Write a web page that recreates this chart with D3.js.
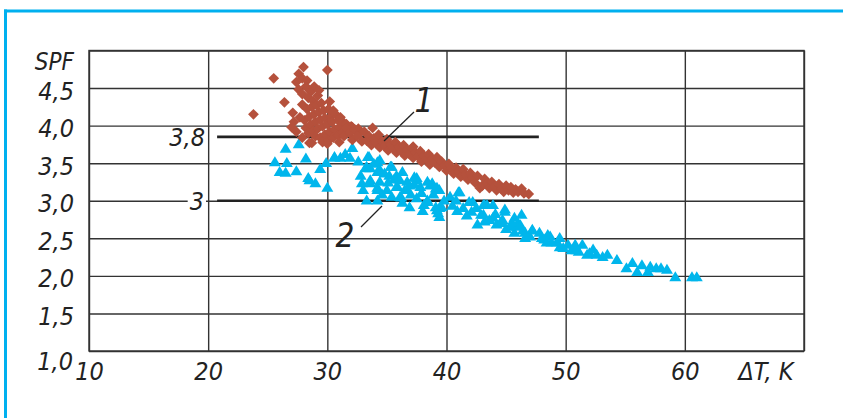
<!DOCTYPE html>
<html>
  <head>
    <meta charset="utf-8">
    <title>SPF vs dT</title>
    <style>
      body { margin: 0; background: #fff; }
      text { font-family: "Liberation Sans Narrow", "DejaVu Sans Condensed", sans-serif; font-style: italic; fill: #222; }
    </style>
  </head>
  <body>
  <script src="https://d3js.org/d3.v7.min.js"></script>
  <script>
    var w = 843;
    var h = 418;

    // x ticks (dT, K) and y ticks (SPF)
    var xTicks = [10, 20, 30, 40, 50, 60];
    var yTicks = [1.0, 1.5, 2.0, 2.5, 3.0, 3.5, 4.0, 4.5];

    // reference lines: label, SPF level
    var refLabels = ['3,8', '3'];
    var refValues = [3.85, 3.0];

    // series 1 (red diamonds): [dT, SPF]
    var series1 = [
      [23.8,4.15],[25.5,4.63],[26.4,4.31],[27.1,4.17],[28.0,4.78],[30.0,4.74],
      [27.4,4.58],[27.6,4.69],[27.9,4.63],[28.3,4.60],[27.6,4.48],[27.9,4.42],[28.2,4.52],[28.6,4.45],
      [28.9,4.52],[28.4,4.37],[28.8,4.33],[29.2,4.40],[27.9,4.28],[28.3,4.22],[28.7,4.25],[29.1,4.27],
      [29.5,4.30],[28.1,4.07],[28.5,4.12],[28.9,4.15],[29.3,4.18],[29.7,4.20],[30.1,4.22],[28.2,3.97],
      [28.6,4.01],[29.0,4.05],[29.4,4.08],[29.8,4.10],[30.3,4.12],[30.7,4.15],[28.4,3.90],[28.8,3.93],
      [29.2,3.96],[29.6,3.99],[30.0,4.02],[30.4,4.05],[30.9,4.07],[29.0,3.86],[29.4,3.84],[29.8,3.88],
      [30.2,3.92],[30.6,3.95],[31.0,3.98],[31.3,4.05],[29.6,3.78],[30.1,3.80],[30.5,3.84],[30.9,3.87],
      [31.3,3.91],[31.7,3.94],[32.0,3.99],[27.0,3.98],[27.4,3.92],[27.7,4.11],[28.5,3.77],[27.9,3.84],
      [27.2,4.05],[28.7,3.77],[30.0,3.76],[31.0,3.78],[30.5,4.20],[31.1,4.11],[33.8,3.97],[32.1,3.98],
      [32.7,3.90],[34.4,3.81],[35.8,3.76],[37.2,3.72],[29.3,4.47],[30.2,4.32],[31.6,4.02],[32.6,3.96],
      [31.4,3.86],[31.6,3.97],[31.9,3.90],[32.1,3.81],[32.3,3.95],[32.5,3.86],[32.9,3.79],[33.1,3.92],
      [33.3,3.80],[33.5,3.86],[33.7,3.74],[33.9,3.83],[34.1,3.77],[34.3,3.88],[34.4,3.71],[34.6,3.79],
      [34.8,3.73],[35.0,3.82],[35.1,3.67],[35.3,3.75],[35.5,3.70],[35.7,3.78],[35.8,3.64],[36.0,3.72],
      [36.2,3.66],[36.4,3.74],[36.5,3.60],[36.7,3.68],[36.9,3.62],[37.1,3.70],[37.2,3.57],[37.4,3.64],
      [37.6,3.59],[37.8,3.66],[37.9,3.52],[38.1,3.60],[38.3,3.55],[38.5,3.62],[38.6,3.48],[38.8,3.56],
      [39.0,3.51],[39.2,3.58],[39.4,3.45],[39.6,3.52],[39.8,3.47],[40.0,3.40],[40.2,3.49],[40.4,3.43],
      [40.6,3.36],[40.8,3.44],[41.0,3.39],[41.2,3.32],[41.4,3.42],[41.6,3.35],[41.8,3.28],[42.0,3.37],
      [42.2,3.31],[42.4,3.24],[42.6,3.33],[42.8,3.17],[43.0,3.20],[43.2,3.29],[43.4,3.23],[43.6,3.17],
      [43.8,3.25],[44.0,3.19],[44.2,3.14],[44.4,3.22],[44.6,3.16],[44.8,3.12],[45.0,3.20],[45.2,3.14],
      [45.4,3.18],[45.6,3.11],[45.8,3.15],[46.0,3.12],[46.3,3.16],[46.5,3.10],[46.9,3.09]
    ];

    // series 2 (blue triangles): [dT, SPF]
    var series2 = [
      [25.6,3.51],[26.0,3.38],[26.5,3.37],[26.6,3.50],[26.5,3.69],[27.6,3.75],[27.4,3.39],[28.5,3.27],
      [29.0,3.23],[30.0,3.17],[29.4,3.42],[29.9,3.50],[30.6,3.57],[31.1,3.57],[31.9,3.57],[32.1,3.70],
      [33.5,3.58],[34.4,3.54],[33.2,3.43],[33.6,3.43],[34.2,3.38],[35.4,3.45],[35.2,3.33],[35.8,3.33],
      [33.6,3.27],[34.4,3.25],[35.1,3.24],[33.0,3.14],[34.2,3.14],[35.9,3.18],[36.5,3.14],[37.5,3.27],
      [37.8,3.18],[38.6,3.20],[39.1,3.16],[33.3,3.00],[34.2,3.00],[36.2,3.04],[37.5,3.03],[38.4,3.00],
      [36.9,2.91],[38.1,2.94],[39.1,2.91],[39.6,2.91],[39.3,2.83],[40.3,3.05],[38.8,3.23],[39.4,3.14],
      [41.0,3.11],[39.4,2.90],[39.4,2.78],[40.5,2.93],[41.4,2.90],[41.9,2.98],[42.1,2.85],
      [42.6,2.68],[43.1,2.94],[43.9,2.94],[42.9,2.81],[43.6,2.74],[44.2,2.68],[44.9,2.88],[44.7,2.74],
      [45.3,2.65],[45.7,2.77],[46.3,2.81],[45.9,2.65],[46.4,2.60],[47.2,2.60],[47.8,2.57],[48.5,2.54],
      [33.4,3.58],[34.2,3.51],[33.3,3.45],[34.4,3.41],[35.3,3.45],[32.9,3.23],[33.6,3.23],[34.2,3.17],
      [35.0,3.14],[35.8,3.18],[36.7,3.14],[37.5,3.30],[37.3,3.21],[38.4,3.25],[39.2,3.17],[36.1,3.05],
      [38.4,2.98],[39.2,2.87],[41.1,3.11],[42.2,2.98],[43.2,2.94],[43.2,2.72],[44.5,2.70],[46.0,2.70],
      [46.6,2.57],[47.2,2.61],[48.7,2.52],[49.3,2.44],[28.4,3.30],[30.6,3.58],[37.3,3.31],[36.7,3.25],
      [36.1,3.27],[28.2,3.56],
      [31.5,3.62],[32.6,3.52],[33.9,3.49],[34.8,3.36],[35.6,3.28],[36.3,3.38],[36.9,3.20],[37.9,3.10],
      [38.9,3.08],[39.8,3.00],[40.8,3.00],[34.6,3.08],[35.4,3.05],[37.0,3.08],[38.0,2.86],[41.7,2.80],
      [42.5,2.90],[40.9,2.86],[44.1,2.82],[45.0,2.62],[47.0,2.52],[48.2,2.48],[36.3,2.97],[32.8,3.33],
      [43.4,2.94],[44.9,2.85],[43.1,2.81],[43.9,2.77],[44.6,2.71],[45.5,2.70],[46.2,2.67],[45.7,2.57],
      [46.6,2.50],[48.0,2.50],[49.5,2.50],[48.8,2.44],[49.5,2.38],[50.2,2.41],[50.8,2.41],[51.4,2.41],
      [51.1,2.32],[52.0,2.30],[52.3,2.35],[53.5,2.28],[54.3,2.21],[55.1,2.10],[55.6,2.17],[56.0,2.05],
      [56.4,2.14],[56.9,2.05],[57.1,2.12],[57.6,2.10],[58.0,2.10],[58.5,2.08],[59.2,1.98],[60.6,1.98],
      [61.0,1.98],[48.4,2.44],[49.8,2.37],[50.5,2.34],[50.9,2.34],[51.8,2.28],[52.6,2.28],[53.1,2.25]
    ];

    var plotLeft = 89, plotRight = 804, plotTop = 50.5, plotBottom = 351;
    var fontStack = '"Liberation Sans Narrow", "DejaVu Sans Condensed", sans-serif';

    var x = d3.scaleLinear().domain([10, 70]).range([plotLeft, plotRight]);
    var y = d3.scaleLinear().domain([1, 5]).range([plotBottom, plotTop]);

    var svg = d3.select('body')
                .append('svg')
                .attr('width', w)
                .attr('height', h);

    // blue frame (top and left only)
    svg.append('line').attr('x1', 4).attr('x2', w).attr('y1', 11).attr('y2', 11)
       .attr('stroke', '#00b0ef').attr('stroke-width', 3);
    svg.append('line').attr('x1', 5.5).attr('x2', 5.5).attr('y1', 9.5).attr('y2', h)
       .attr('stroke', '#00b0ef').attr('stroke-width', 3);

    // grid via axes
    var xAxis = svg.append('g')
        .attr('transform', 'translate(0,' + plotBottom + ')')
        .call(d3.axisBottom(x).tickValues(xTicks.concat([70])).tickSize(-(plotBottom - plotTop)).tickPadding(0)
              .tickFormat(function(d) { return d === 70 ? '' : d; }));
    var yAxis = svg.append('g')
        .attr('transform', 'translate(' + plotLeft + ',0)')
        .call(d3.axisLeft(y).tickValues(yTicks.concat([5])).tickSize(-(plotRight - plotLeft)).tickPadding(15)
              .tickFormat(function(d) { return d === 5 ? '' : d.toFixed(1).replace('.', ','); }));

    [xAxis, yAxis].forEach(function(g) {
      g.select('.domain').remove();
      g.selectAll('line').attr('stroke', '#333').attr('stroke-width', 1.4);
      g.selectAll('text')
        .style('font-family', fontStack)
        .style('font-style', 'italic')
        .attr('font-size', 25)
        .attr('fill', '#222');
    });
    xAxis.selectAll('text').attr('y', 29).attr('dy', 0);
    yAxis.selectAll('text').attr('dy', '0.32em').attr('y', 3);
    yAxis.selectAll('.tick').filter(function(d) { return d === 1; })
         .select('text').attr('y', 10).attr('x', -16);

    svg.append('rect').attr('x', plotLeft).attr('y', plotTop)
       .attr('width', plotRight - plotLeft).attr('height', plotBottom - plotTop)
       .attr('fill', 'none').attr('stroke', '#333').attr('stroke-width', 1.4);

    // axis titles
    svg.append('text').attr('x', 74).attr('y', 70).attr('text-anchor', 'end')
       .attr('font-size', 24).text('SPF');
    svg.append('text').attr('x', 766).attr('y', 380).attr('text-anchor', 'middle')
       .attr('font-size', 25).text('\u0394T, K');

    // reference lines
    refValues.forEach(function(v, i) {
      svg.append('line')
         .attr('x1', x(20.75)).attr('x2', x(47.75))
         .attr('y1', y(v)).attr('y2', y(v))
         .attr('stroke', '#222').attr('stroke-width', 2.6);
      var knock = svg.append('rect').attr('fill', '#fff');
      var lab = svg.append('text')
         .attr('x', i === 0 ? 205 : 204).attr('y', y(v) + 9)
         .attr('text-anchor', 'end').attr('font-size', 25)
         .text(refLabels[i]);
      var bb = lab.node().getBBox();
      knock.attr('x', bb.x - 2).attr('y', y(v) - 2).attr('width', bb.width + 4).attr('height', 4);
    });

    // points
    var tri = 'M0,-6.2L6,3.8L-6,3.8Z';
    var dia = 'M0,-5.4L5.4,0L0,5.4L-5.4,0Z';

    svg.append('g').selectAll('path')
       .data(series2)
       .enter()
       .append('path')
       .attr('d', tri)
       .attr('transform', d => 'translate(' + x(d[0]) + ',' + y(d[1]) + ')')
       .attr('fill', '#00b6ec');

    svg.append('g').selectAll('path')
       .data(series1)
       .enter()
       .append('path')
       .attr('d', dia)
       .attr('transform', d => 'translate(' + x(d[0]) + ',' + y(d[1]) + ')')
       .attr('fill', '#b5513c');

    // curve labels with leaders
    svg.append('line').attr('x1', 414).attr('y1', 112).attr('x2', 384).attr('y2', 141)
       .attr('stroke', '#222').attr('stroke-width', 1.3);
    svg.append('text').attr('x', 424).attr('y', 112).attr('text-anchor', 'middle')
       .attr('font-size', 33).text('1');
    svg.append('line').attr('x1', 361).attr('y1', 227).attr('x2', 382).attr('y2', 206)
       .attr('stroke', '#222').attr('stroke-width', 1.3);
    svg.append('text').attr('x', 345).attr('y', 247).attr('text-anchor', 'middle')
       .attr('font-size', 33).text('2');
  </script>
  </body>
</html>
